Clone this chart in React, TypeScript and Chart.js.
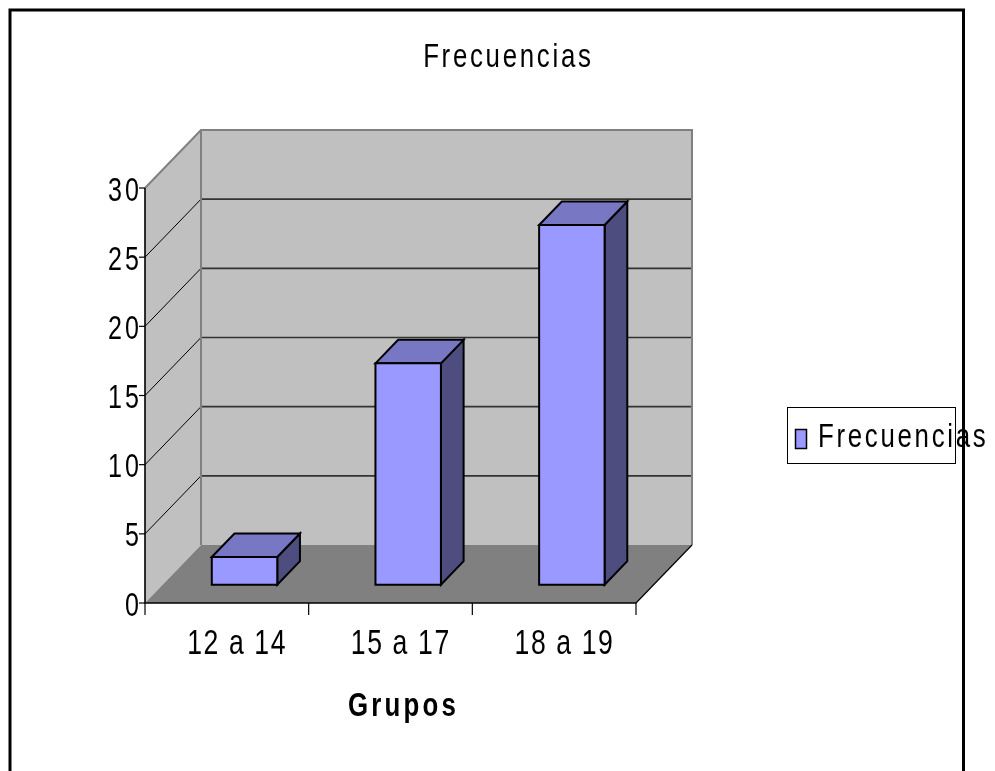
import React, { useEffect, useRef } from "react";
import { Chart, registerables } from "chart.js";

Chart.register(...registerables);

const categories: string[] = ["12 a 14", "15 a 17", "18 a 19"];
const frecuencias: number[] = [2, 16, 26];
const yTicks: number[] = [0, 5, 10, 15, 20, 25, 30];
const yTickLabels: string[] = ["0", "5", "10", "15", "20", "25", "30"];
const seriesName = "Frecuencias";
const chartTitle = "Frecuencias";
const xAxisTitle = "Grupos";

const FONT = '"Liberation Sans", Arial, sans-serif';
const SX = 0.76;
const DX = 56;
const DY = -58;
const FRONT = 0.316;
const DEPTH = 0.405;

function drawText(
  ctx: CanvasRenderingContext2D,
  text: string,
  x: number,
  y: number,
  size: number,
  bold: boolean,
  spacing: number,
  align: "left" | "center" | "right"
) {
  ctx.save();
  ctx.font = `${bold ? "bold " : ""}${size}px ${FONT}`;
  ctx.fillStyle = "#000";
  ctx.textBaseline = "alphabetic";
  ctx.textAlign = "left";
  const chars = Array.from(text);
  const advs = chars.map((c) => ctx.measureText(c).width * SX);
  const total = advs.reduce((a, b) => a + b, 0) + spacing * (chars.length - 1);
  let cx = align === "left" ? x : align === "center" ? x - total / 2 : x - total;
  chars.forEach((c, i) => {
    ctx.save();
    ctx.translate(cx, y);
    ctx.scale(SX, 1);
    ctx.fillText(c, 0, 0);
    ctx.restore();
    cx += advs[i] + spacing;
  });
  ctx.restore();
}

const backdropPlugin = {
  id: "backdrop3d",
  beforeDatasetsDraw(chart: any) {
    const ctx: CanvasRenderingContext2D = chart.ctx;
    const area = chart.chartArea;
    const xs = chart.scales.x;
    const ys = chart.scales.y;
    const L = area.left, R = area.right;
    const y0 = ys.getPixelForValue(yTicks[0]);
    const yTop = ys.getPixelForValue(yTicks[yTicks.length - 1]);
    ctx.save();
    // back wall
    ctx.fillStyle = "#c0c0c0";
    ctx.fillRect(L + DX, yTop + DY, R - L, y0 - yTop);
    // side wall
    ctx.beginPath();
    ctx.moveTo(L, y0);
    ctx.lineTo(L, yTop);
    ctx.lineTo(L + DX, yTop + DY);
    ctx.lineTo(L + DX, y0 + DY);
    ctx.closePath();
    ctx.fill();
    // floor
    ctx.fillStyle = "#808080";
    ctx.beginPath();
    ctx.moveTo(L, y0);
    ctx.lineTo(R, y0);
    ctx.lineTo(R + DX, y0 + DY);
    ctx.lineTo(L + DX, y0 + DY);
    ctx.closePath();
    ctx.fill();

    // gridlines
    yTicks.forEach((v, i) => {
      if (i === 0 || i === yTicks.length - 1) return;
      const py = ys.getPixelForValue(v);
      ctx.strokeStyle = "#333333";
      ctx.lineWidth = 1.6;
      ctx.beginPath();
      ctx.moveTo(L + DX, py + DY);
      ctx.lineTo(R + DX, py + DY);
      ctx.stroke();
      ctx.strokeStyle = "#000";
      ctx.lineWidth = 1;
      ctx.beginPath();
      ctx.moveTo(L, py);
      ctx.lineTo(L + DX, py + DY);
      ctx.stroke();
    });

    // wall edges
    ctx.strokeStyle = "#808080";
    ctx.lineWidth = 2;
    ctx.beginPath();
    ctx.moveTo(L, yTop);
    ctx.lineTo(L + DX, yTop + DY);
    ctx.lineTo(R + DX, yTop + DY);
    ctx.lineTo(R + DX, y0 + DY);
    ctx.moveTo(L + DX, yTop + DY);
    ctx.lineTo(L + DX, y0 + DY);
    ctx.stroke();

    // floor right edge
    ctx.strokeStyle = "#000";
    ctx.lineWidth = 1.2;
    ctx.beginPath();
    ctx.moveTo(R, y0);
    ctx.lineTo(R + DX, y0 + DY);
    ctx.stroke();

    // axes
    ctx.lineWidth = 1.6;
    ctx.beginPath();
    ctx.moveTo(L, yTop);
    ctx.lineTo(L, y0);
    ctx.lineTo(R, y0);
    ctx.stroke();
    ctx.lineWidth = 1.2;
    yTicks.forEach((v) => {
      const py = ys.getPixelForValue(v);
      ctx.beginPath();
      ctx.moveTo(L - 6, py);
      ctx.lineTo(L, py);
      ctx.stroke();
    });
    const n = categories.length;
    const cw = (R - L) / n;
    for (let i = 0; i <= n; i++) {
      const px = L + i * cw;
      ctx.beginPath();
      ctx.moveTo(px, y0);
      ctx.lineTo(px, y0 + 12);
      ctx.stroke();
    }
    ctx.restore();

    // tick labels
    yTicks.forEach((v, i) => {
      const py = ys.getPixelForValue(v);
      drawText(ctx, yTickLabels[i], L - 6, py + 12.5, 33, false, 3, "right");
    });
    categories.forEach((c, i) => {
      const px = xs.getPixelForValue(i);
      drawText(ctx, c, px + 9.5, y0 + 51, 35, false, 1.6, "center");
    });
  },
  afterDatasetsDraw(chart: any) {
    const ctx: CanvasRenderingContext2D = chart.ctx;
    const meta = chart.getDatasetMeta(0);
    const fx = DX * FRONT, fy = DY * FRONT;
    const bx = DX * DEPTH, by = DY * DEPTH;
    ctx.save();
    ctx.strokeStyle = "#000";
    ctx.lineWidth = 2;
    ctx.lineJoin = "miter";
    meta.data.forEach((el: any) => {
      const p = el.getProps(["x", "y", "base", "width"], true);
      const l = p.x - p.width / 2 + fx;
      const r = p.x + p.width / 2 + fx;
      const t = p.y + fy;
      const b = p.base + fy;
      // side
      ctx.fillStyle = "#4d4d80";
      ctx.beginPath();
      ctx.moveTo(r, t);
      ctx.lineTo(r + bx, t + by);
      ctx.lineTo(r + bx, b + by);
      ctx.lineTo(r, b);
      ctx.closePath();
      ctx.fill();
      ctx.stroke();
      // top
      ctx.fillStyle = "#7777c4";
      ctx.beginPath();
      ctx.moveTo(l, t);
      ctx.lineTo(l + bx, t + by);
      ctx.lineTo(r + bx, t + by);
      ctx.lineTo(r, t);
      ctx.closePath();
      ctx.fill();
      ctx.stroke();
      // front
      ctx.fillStyle = "#9999ff";
      ctx.beginPath();
      ctx.rect(l, t, r - l, b - t);
      ctx.fill();
      ctx.stroke();
    });
    ctx.restore();
  },
  afterDraw(chart: any) {
    const ctx: CanvasRenderingContext2D = chart.ctx;
    // title
    drawText(ctx, chartTitle, 507, 67, 34, false, 2.7, "center");
    // axis title
    drawText(ctx, xAxisTitle, 402, 716, 34, true, 3.2, "center");
    // legend
    ctx.save();
    ctx.fillStyle = "#fff";
    ctx.fillRect(787.5, 407.5, 168, 56);
    ctx.strokeStyle = "#000";
    ctx.lineWidth = 1;
    ctx.strokeRect(787.5, 407.5, 168, 56);
    ctx.fillStyle = "#9999ff";
    ctx.fillRect(795.5, 429.5, 11, 19);
    ctx.lineWidth = 1.5;
    ctx.strokeRect(795.5, 429.5, 11, 19);
    ctx.restore();
    drawText(ctx, seriesName, 818, 447, 34, false, 2.7, "left");
    // outer frame
    ctx.save();
    ctx.strokeStyle = "#000";
    ctx.lineWidth = 3;
    ctx.strokeRect(10, 10, 953.5, 900);
    ctx.restore();
  },
};

export default function App() {
  const ref = useRef<HTMLCanvasElement | null>(null);
  useEffect(() => {
    if (!ref.current) return;
    const chart = new Chart(ref.current, {
      type: "bar",
      data: {
        labels: categories,
        datasets: [
          {
            label: seriesName,
            data: frecuencias,
            backgroundColor: "rgba(0,0,0,0)",
            borderWidth: 0,
            categoryPercentage: 1,
            barPercentage: 0.4,
          },
        ],
      },
      options: {
        responsive: false,
        animation: false,
        devicePixelRatio: 1,
        layout: { padding: { left: 145, top: 188, right: 359, bottom: 168 } },
        scales: {
          x: { display: false },
          y: { display: false, min: 0, max: 30 },
        },
        plugins: {
          legend: { display: false },
          title: { display: false },
          tooltip: { enabled: false },
        },
      },
      plugins: [backdropPlugin],
    });
    return () => chart.destroy();
  }, []);
  return (
    <div style={{ position: "absolute", left: 0, top: 0, width: 995, height: 771, background: "#fff" }}>
      <canvas ref={ref} width={995} height={771} style={{ width: 995, height: 771, display: "block" }} />
    </div>
  );
}
